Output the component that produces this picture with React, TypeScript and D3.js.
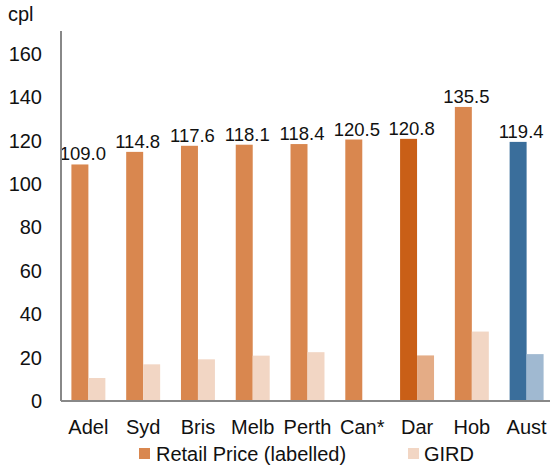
import React from "react";
import * as d3 from "d3";

const categories = ["Adel", "Syd", "Bris", "Melb", "Perth", "Can*", "Dar", "Hob", "Aust"];
const retailValues = [109.0, 114.8, 117.6, 118.1, 118.4, 120.5, 120.8, 135.5, 119.4];
const girdValues: (number | null)[] = [10.6, 16.9, 19.2, 20.9, 22.5, null, 21.0, 32.0, 21.6];
const yTicks = [0, 20, 40, 60, 80, 100, 120, 140, 160];
const retailColors = ["#D9874F", "#D9874F", "#D9874F", "#D9874F", "#D9874F", "#D9874F", "#C95F17", "#D9874F", "#3A6E9B"];
const girdColors = ["#F2D6C4", "#F2D6C4", "#F2D6C4", "#F2D6C4", "#F2D6C4", "#F2D6C4", "#E4AC86", "#F2D6C4", "#A0B9D1"];

export default function App() {
  const W = 550, H = 467;
  const left = 61, right = 554, top = 31, bottom = 401;
  const font = "'Liberation Sans', Arial, sans-serif";
  const y = d3.scaleLinear().domain([0, 170.5]).range([bottom, top]);
  const x = d3.scaleBand().domain(categories).range([left, right]).paddingInner(0.38).paddingOuter(0.19);
  const bw = x.bandwidth() / 2;
  return (
    <svg width={W} height={H} style={{ position: "absolute", left: 0, top: 0, fontFamily: font }}>
      <rect width={W} height={H} fill="#fff" />
      <text x={8} y={21} fontSize={20} fill="#111">cpl</text>
      {yTicks.map((t) => (
        <text key={t} x={42} y={y(t)} dy="0.35em" textAnchor="end" fontSize={20} fill="#111">{t}</text>
      ))}
      {categories.map((c, i) => {
        const x0 = x(c)!;
        const g = girdValues[i];
        return (
          <g key={c}>
            <rect x={x0} y={y(retailValues[i])} width={bw} height={bottom - y(retailValues[i])} fill={retailColors[i]} />
            {g !== null && (
              <rect x={x0 + bw} y={y(g)} width={bw} height={bottom - y(g)} fill={girdColors[i]} />
            )}
            <text x={x0 + bw / 2 + 3} y={y(retailValues[i]) - 4} textAnchor="middle" fontSize={18.5} fill="#111">
              {retailValues[i].toFixed(1)}
            </text>
            <text x={x0 + bw} y={434} textAnchor="middle" fontSize={20} fill="#111">{c}</text>
          </g>
        );
      })}
      <line x1={left} x2={left} y1={top} y2={bottom} stroke="#888" strokeWidth={2} />
      <line x1={left} x2={W} y1={bottom} y2={bottom} stroke="#888" strokeWidth={2} />
      <rect x={139} y={448} width={11} height={11} fill="#D9874F" />
      <text x={156} y={461} fontSize={20} fill="#111">Retail Price (labelled)</text>
      <rect x={408} y={448} width={11} height={11} fill="#F2D6C4" />
      <text x={424} y={461} fontSize={20} fill="#111">GIRD</text>
    </svg>
  );
}
